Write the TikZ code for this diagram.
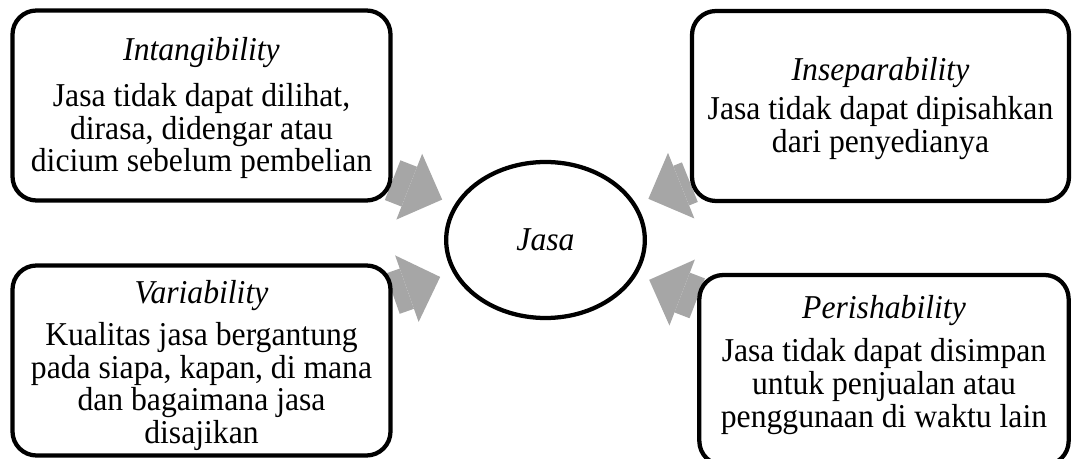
\documentclass[tikz,border=0pt]{standalone}
\usepackage{fontspec}
\setmainfont{Liberation Serif}[FakeStretch=0.95]
\usetikzlibrary{arrows.meta,shapes.geometric,backgrounds}
\definecolor{arrowgray}{HTML}{A6A6A6}

\begin{document}
\begin{tikzpicture}[x=0.75pt, y=-0.75pt,
    box/.style={draw, line width=3.2pt, rounded corners=18pt, fill=white, inner sep=0pt, minimum height=142.5pt},
    boxtext/.style={anchor=north, align=center, inner sep=0pt, font=\fontsize{25pt}{24.5pt}\selectfont},
    centre/.style={draw, ellipse, line width=3.2pt, fill=white, inner sep=0pt, minimum width=149pt, minimum height=117pt, font=\fontsize{25pt}{24.5pt}\selectfont\itshape},
    pointer/.style={arrowgray, line width=32pt, shorten >=10pt, -{Triangle[length=26.5pt, width=53pt, line width=0pt]}}]

    \useasboundingbox (0,0) rectangle (1072,459);
    \clip (0,0) rectangle (1072,459);

    \node[centre] (jasa) at (545.5,240) {Jasa};

    % the four boxes
    \node[box, minimum width=283.5pt] (intang) at (201.5,105.5) {};
    \node[box, minimum width=282.75pt] (insep) at (880.5,106) {};
    \node[box, minimum width=283.5pt] (vari) at (201.5,360.5) {};
    \node[box, minimum width=277pt] (perish) at (884,370) {};

    \node[boxtext] (intangtext) at (201.5,37) {\textit{Intangibility}\\[10pt] Jasa tidak dapat dilihat,\\ dirasa, didengar atau\\ dicium sebelum pembelian};
    \node[boxtext] (inseptext) at (880.5,57) {\textit{Inseparability}\\[5pt] Jasa tidak dapat dipisahkan\\ dari penyedianya};
    \node[boxtext] (varitext) at (201.5,280) {\textit{Variability}\\[7pt] Kualitas jasa bergantung\\ pada siapa, kapan, di mana\\ dan bagaimana jasa\\ disajikan};
    \node[boxtext] (perishtext) at (884,295) {\textit{Perishability}\\[8pt] Jasa tidak dapat disimpan\\ untuk penjualan atau\\ penggunaan di waktu lain};

    % grey arrows sit behind the boxes
    \begin{scope}[on background layer]
        \draw[pointer] (intang) -- (jasa);
        \draw[pointer] (insep) -- (jasa);
        \draw[pointer] (vari) -- (jasa);
        \draw[pointer] (perish) -- (jasa);
    \end{scope}

\end{tikzpicture}
\end{document}
